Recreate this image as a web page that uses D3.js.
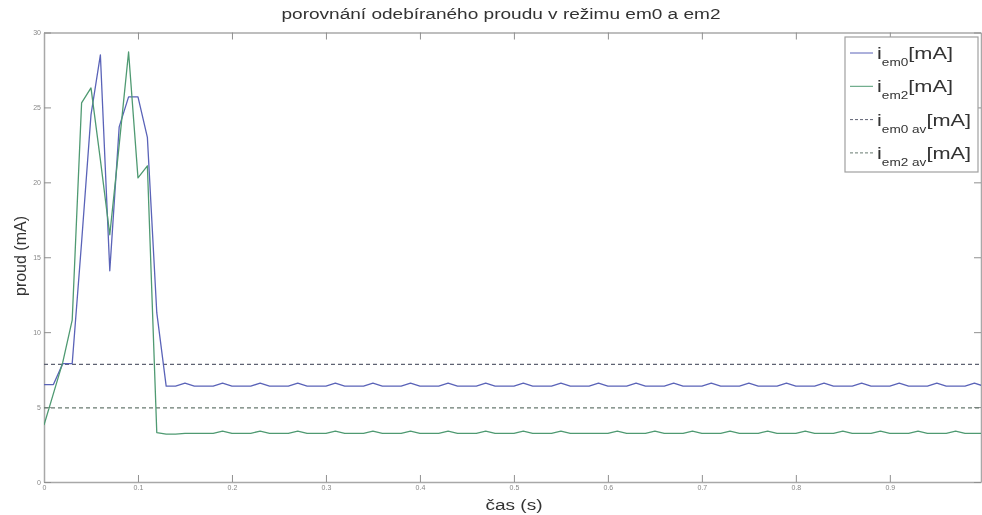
<!DOCTYPE html>
<html>
<head>
<meta charset="utf-8">
<script src="https://cdnjs.cloudflare.com/ajax/libs/d3/7.8.5/d3.min.js"></script>
<style>
  html, body { margin: 0; padding: 0; background: #fff; }
  svg { display: block; font-family: "Liberation Sans", Arial, sans-serif; filter: blur(0.35px); }
  .tick text { fill: #888; font-size: 7px; }
</style>
</head>
<body>
<div id="chart"></div>
<script>
// sample times (s)
var timeS = [0.00, 0.01, 0.02, 0.03, 0.04, 0.05, 0.06, 0.07, 0.08, 0.09,
    0.10, 0.11, 0.12, 0.13, 0.14, 0.15, 0.16, 0.17, 0.18, 0.19,
    0.20, 0.21, 0.22, 0.23, 0.24, 0.25, 0.26, 0.27, 0.28, 0.29,
    0.30, 0.31, 0.32, 0.33, 0.34, 0.35, 0.36, 0.37, 0.38, 0.39,
    0.40, 0.41, 0.42, 0.43, 0.44, 0.45, 0.46, 0.47, 0.48, 0.49,
    0.50, 0.51, 0.52, 0.53, 0.54, 0.55, 0.56, 0.57, 0.58, 0.59,
    0.60, 0.61, 0.62, 0.63, 0.64, 0.65, 0.66, 0.67, 0.68, 0.69,
    0.70, 0.71, 0.72, 0.73, 0.74, 0.75, 0.76, 0.77, 0.78, 0.79,
    0.80, 0.81, 0.82, 0.83, 0.84, 0.85, 0.86, 0.87, 0.88, 0.89,
    0.90, 0.91, 0.92, 0.93, 0.94, 0.95, 0.96, 0.97, 0.98, 0.99, 1.00];

// proud v rezimu em0 (mA)
var iEm0 = [6.5, 6.5, 7.9, 7.9, 16.0, 24.5, 28.5, 14.1, 23.7, 25.7,
    25.7, 23.0, 11.3, 6.4, 6.4, 6.6,
    6.4, 6.4, 6.4, 6.6, 6.4, 6.4, 6.4, 6.6, 6.4, 6.4, 6.4, 6.6,
    6.4, 6.4, 6.4, 6.6, 6.4, 6.4, 6.4, 6.6, 6.4, 6.4, 6.4, 6.6,
    6.4, 6.4, 6.4, 6.6, 6.4, 6.4, 6.4, 6.6, 6.4, 6.4, 6.4, 6.6,
    6.4, 6.4, 6.4, 6.6, 6.4, 6.4, 6.4, 6.6, 6.4, 6.4, 6.4, 6.6,
    6.4, 6.4, 6.4, 6.6, 6.4, 6.4, 6.4, 6.6, 6.4, 6.4, 6.4, 6.6,
    6.4, 6.4, 6.4, 6.6, 6.4, 6.4, 6.4, 6.6, 6.4, 6.4, 6.4, 6.6,
    6.4, 6.4, 6.4, 6.6, 6.4, 6.4, 6.4, 6.6, 6.4, 6.4, 6.4, 6.6,
    6.4];

// proud v rezimu em2 (mA)
var iEm2 = [3.8, 5.9, 8.0, 10.8, 25.3, 26.3, 21.5, 16.5, 22.5, 28.7,
    20.3, 21.1, 3.3, 3.2, 3.2, 3.25, 3.25, 3.25, 3.25, 3.4,
    3.25, 3.25, 3.25, 3.4, 3.25, 3.25, 3.25, 3.4, 3.25, 3.25, 3.25, 3.4,
    3.25, 3.25, 3.25, 3.4, 3.25, 3.25, 3.25, 3.4, 3.25, 3.25, 3.25, 3.4,
    3.25, 3.25, 3.25, 3.4, 3.25, 3.25, 3.25, 3.4, 3.25, 3.25, 3.25, 3.4,
    3.25, 3.25, 3.25, 3.25, 3.25, 3.4,
    3.25, 3.25, 3.25, 3.4, 3.25, 3.25, 3.25, 3.4, 3.25, 3.25, 3.25, 3.4,
    3.25, 3.25, 3.25, 3.4, 3.25, 3.25, 3.25, 3.4, 3.25, 3.25, 3.25, 3.4,
    3.25, 3.25, 3.25, 3.4, 3.25, 3.25, 3.25, 3.4, 3.25, 3.25, 3.25, 3.4,
    3.25, 3.25, 3.25];

// prumerne hodnoty em0, em2 (mA)
var avgValues = [7.85, 4.95];

var xTicks = [0, 0.1, 0.2, 0.3, 0.4, 0.5, 0.6, 0.7, 0.8, 0.9];
var yTicks = [0, 5, 10, 15, 20, 25, 30];
var seriesNames = ["em0", "em2", "em0 av", "em2 av"];

var chartTitle = "porovnání odebíraného proudu v režimu em0 a em2";
var xTitle = "čas (s)";
var yTitle = "proud (mA)";

var W = 982, H = 515;
var margin = {top: 32.5, right: 1, bottom: 33, left: 44};
var width = W - margin.left - margin.right,
    height = H - margin.top - margin.bottom;

var colors = ["#5a63b8", "#4f9a72", "#5e6272", "#687a70"];

var x = d3.scaleLinear().domain([0, 0.997]).range([0, width]);
var y = d3.scaleLinear().domain([0, 30]).range([height, 0]);

var svg = d3.select("#chart").append("svg")
    .attr("width", W)
    .attr("height", H);

var canvas = svg.append("g")
    .attr("transform", "translate(" + margin.left + "," + margin.top + ")");

canvas.append("clipPath").attr("id", "plotclip")
    .append("rect").attr("width", width).attr("height", height);

// axes, matlab style with inner ticks on all four sides
function styleAxis(g) {
    g.select(".domain").attr("stroke", "#a8a8a8").attr("stroke-width", 1.5);
    g.selectAll(".tick line").attr("stroke", "#909090");
}

canvas.append("g")
    .attr("transform", "translate(0," + height + ")")
    .call(d3.axisBottom(x).tickValues(xTicks).tickSizeInner(-7).tickSizeOuter(0)
        .tickPadding(3).tickFormat(function (d) { return d === 0 ? "0" : d3.format(".1f")(d); }))
    .call(styleAxis);

canvas.append("g")
    .call(d3.axisTop(x).tickValues(xTicks).tickSizeInner(-7).tickSizeOuter(0).tickFormat(""))
    .call(styleAxis);

canvas.append("g")
    .call(d3.axisLeft(y).tickValues(yTicks).tickSizeInner(-7).tickSizeOuter(0).tickPadding(3))
    .call(styleAxis);

canvas.append("g")
    .attr("transform", "translate(" + width + ",0)")
    .call(d3.axisRight(y).tickValues(yTicks).tickSizeInner(-7).tickSizeOuter(0).tickFormat(""))
    .call(styleAxis);

var plot = canvas.append("g").attr("clip-path", "url(#plotclip)");

// average lines (dashed)
plot.selectAll(".avg")
    .data(avgValues)
    .enter()
    .append("line")
    .attr("class", "avg")
    .attr("x1", x(0))
    .attr("x2", x(1))
    .attr("y1", function (d) { return y(d); })
    .attr("y2", function (d) { return y(d); })
    .attr("stroke", function (d, i) { return colors[i + 2]; })
    .attr("stroke-width", 1.2)
    .attr("stroke-dasharray", "4,3");

var line = d3.line()
    .x(function (d) { return x(d[0]); })
    .y(function (d) { return y(d[1]); });

[iEm0, iEm2].forEach(function (vals, k) {
    plot.append("path")
        .datum(d3.zip(timeS, vals))
        .attr("fill", "none")
        .attr("stroke", colors[k])
        .attr("stroke-width", 1.3)
        .attr("stroke-linejoin", "round")
        .attr("d", line);
});

// titles
var stretch = 1.36;
svg.append("text")
    .attr("transform", "translate(501,19) scale(" + stretch + ",1)")
    .attr("text-anchor", "middle")
    .attr("font-size", 14)
    .attr("fill", "#333")
    .text(chartTitle);

svg.append("text")
    .attr("transform", "translate(514,510) scale(" + stretch + ",1)")
    .attr("text-anchor", "middle")
    .attr("font-size", 14)
    .attr("fill", "#333")
    .text(xTitle);

svg.append("text")
    .attr("transform", "translate(26,256) rotate(-90)")
    .attr("text-anchor", "middle")
    .attr("font-size", 16)
    .attr("fill", "#333")
    .text(yTitle);

// legend
var legend = svg.append("g").attr("transform", "translate(845,37)");
legend.append("rect")
    .attr("width", 133)
    .attr("height", 135)
    .attr("fill", "#fff")
    .attr("stroke", "#a0a0a0")
    .attr("stroke-width", 1.2);

var items = legend.selectAll(".item")
    .data(seriesNames)
    .enter()
    .append("g")
    .attr("class", "item")
    .attr("transform", function (d, i) { return "translate(0," + (16 + i * 33.3) + ")"; });

items.append("line")
    .attr("x1", 5).attr("x2", 28)
    .attr("stroke", function (d, i) { return colors[i]; })
    .attr("stroke-width", 1)
    .attr("stroke-dasharray", function (d, i) { return i > 1 ? "3,2" : null; });

var labels = items.append("text")
    .attr("transform", "translate(32,6) scale(" + stretch + ",1)")
    .attr("fill", "#333")
    .attr("font-size", 16);
labels.append("tspan").text("i");
labels.append("tspan").attr("font-size", 10).attr("dy", 7).text(function (d) { return d; });
labels.append("tspan").attr("dy", -7).text("[mA]");
</script>
</body>
</html>
